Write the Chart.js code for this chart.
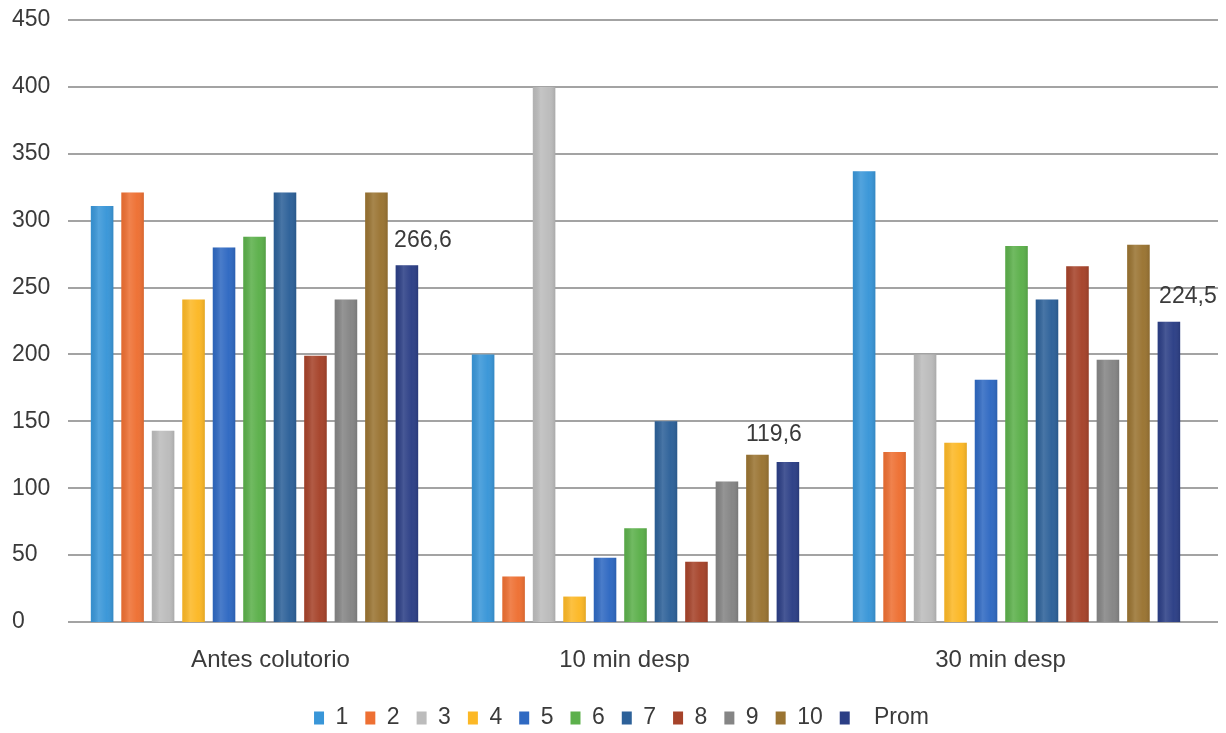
<!DOCTYPE html>
<html lang="es">
<head>
<meta charset="utf-8">
<title>Mediciones por sujeto</title>
<script src="https://cdn.jsdelivr.net/npm/chart.js@4.4.1/dist/chart.umd.min.js"></script>
<style>
  html, body { margin: 0; padding: 0; background: #ffffff; }
  #wrap { width: 1226px; height: 733px; }
</style>
</head>
<body>
<div id="wrap"><canvas id="grafico" width="1226" height="733"></canvas></div>
<script>
// Momentos de medición (eje X)
const categories = ['Antes colutorio', '10 min desp', '30 min desp'];

// Valores de cada sujeto en los tres momentos
const serie1  = [311, 200, 337];
const serie2  = [321, 34, 127];
const serie3  = [143, 400, 200];
const serie4  = [241, 19, 134];
const serie5  = [280, 48, 181];
const serie6  = [288, 70, 281];
const serie7  = [321, 150, 241];
const serie8  = [199, 45, 266];
const serie9  = [241, 105, 196];
const serie10 = [321, 125, 282];
const promedio = [266.6, 119.6, 224.5];

const seriesNames = ['1', '2', '3', '4', '5', '6', '7', '8', '9', '10', 'Prom'];
const seriesValues = [serie1, serie2, serie3, serie4, serie5, serie6, serie7, serie8, serie9, serie10, promedio];

// Eje Y
const yMin = 0;
const yMax = 450;
const yStep = 50;

// Estilo y ubicación
const colors = ['#3996d8', '#ee7033', '#bcbcbc', '#fcb826', '#2f69c2', '#5cb04b',
                '#2d6199', '#a6432a', '#858585', '#9a7432', '#2c3f86'];
const FONT = "'Liberation Sans', Arial, Helvetica, sans-serif";
const TEXT_COLOR = '#3a3a3a';
const GRID_COLOR = '#a3a3a3';
const GRID_X0 = 68, GRID_X1 = 1218;
const PLOT_BOTTOM = 622;
const CAT_LABEL_Y = 660;
const LEGEND_TEXT_Y = 718;
const LEGEND_SHIFT_X = 12;
const LEGEND_PAD = 17;
const catLabelShift = [16, -11, -16];
const valueLabelShift = [[16, -25], [-14, -27], [19, -25]];

// Líneas horizontales de la cuadrícula, a lo ancho del gráfico
const gridPlugin = {
  id: 'gridLines',
  beforeDatasetsDraw(chart) {
    const ys = chart.scales.y;
    const ctx = chart.ctx;
    ctx.save();
    ctx.strokeStyle = GRID_COLOR;
    ctx.lineWidth = 2;
    ys.ticks.forEach(t => {
      const y = Math.round(ys.getPixelForValue(t.value));
      ctx.beginPath();
      ctx.moveTo(GRID_X0, y);
      ctx.lineTo(GRID_X1, y);
      ctx.stroke();
    });
    ctx.restore();
  }
};

// Sombreado suave de cada barra, etiquetas de categoría y del promedio
const decorPlugin = {
  id: 'decor',
  afterLayout(chart) {
    const lg = chart.legend;
    if (lg) {
      const h = lg.height;
      lg.top = LEGEND_TEXT_Y - LEGEND_PAD - 23 / 2;
      lg.bottom = lg.top + h;
      lg.left += LEGEND_SHIFT_X;
      lg.right += LEGEND_SHIFT_X;
    }
  },
  afterDatasetsDraw(chart) {
    const ctx = chart.ctx;
    ctx.save();
    chart.data.datasets.forEach((ds, di) => {
      const meta = chart.getDatasetMeta(di);
      meta.data.forEach(bar => {
        const p = bar.getProps(['x', 'y', 'base', 'width'], true);
        const x0 = p.x - p.width / 2;
        const g = ctx.createLinearGradient(x0, 0, x0 + p.width, 0);
        g.addColorStop(0, 'rgba(0,0,0,0.05)');
        g.addColorStop(0.35, 'rgba(255,255,255,0.13)');
        g.addColorStop(0.7, 'rgba(255,255,255,0.02)');
        g.addColorStop(1, 'rgba(0,0,0,0.10)');
        ctx.fillStyle = g;
        ctx.fillRect(x0, p.y, p.width, p.base - p.y);
      });
    });

    // Valores del promedio sobre sus barras
    const promIdx = seriesValues.length - 1;
    const promMeta = chart.getDatasetMeta(promIdx);
    ctx.fillStyle = TEXT_COLOR;
    ctx.font = '23px ' + FONT;
    ctx.textAlign = 'center';
    ctx.textBaseline = 'middle';
    promMeta.data.forEach((bar, i) => {
      const v = chart.data.datasets[promIdx].data[i];
      const txt = v.toFixed(1).replace('.', ',');
      ctx.fillText(txt, bar.x + valueLabelShift[i][0], bar.y + valueLabelShift[i][1]);
    });

    // Etiquetas de categoría
    const xs = chart.scales.x;
    ctx.font = '24px ' + FONT;
    categories.forEach((c, i) => {
      ctx.fillText(c, xs.getPixelForValue(i) + catLabelShift[i], CAT_LABEL_Y);
    });
    ctx.restore();
  }
};

const datasets = seriesNames.map((name, i) => ({
  label: name,
  data: seriesValues[i],
  backgroundColor: colors[i],
  borderWidth: 0,
  categoryPercentage: 0.88,
  barPercentage: 0.74
}));

new Chart(document.getElementById('grafico'), {
  type: 'bar',
  data: { labels: categories, datasets },
  plugins: [gridPlugin, decorPlugin],
  options: {
    responsive: false,
    animation: false,
    devicePixelRatio: 1,
    layout: { padding: { left: 12, right: 19, top: 20, bottom: 0 } },
    plugins: {
      tooltip: { enabled: false },
      legend: {
        position: 'bottom',
        labels: {
          font: { family: FONT, size: 23 },
          color: TEXT_COLOR,
          boxWidth: 10,
          boxHeight: 13,
          padding: LEGEND_PAD,
          generateLabels(chart) {
            const items = Chart.defaults.plugins.legend.labels.generateLabels(chart);
            items.forEach(it => {
              it.lineWidth = 0;
              if (it.text === 'Prom') it.text = '  Prom';
            });
            return items;
          }
        }
      }
    },
    scales: {
      x: {
        grid: { display: false },
        border: { display: false },
        ticks: { display: false },
        afterFit(axis) {
          const lgH = axis.chart.legend ? axis.chart.legend.height : 0;
          axis.height = Math.max(0, axis.chart.height - PLOT_BOTTOM - lgH);
        }
      },
      y: {
        min: yMin,
        max: yMax,
        grid: { display: false },
        border: { display: false },
        ticks: {
          stepSize: yStep,
          crossAlign: 'far',
          color: TEXT_COLOR,
          font: { family: FONT, size: 23 }
        },
        afterFit(axis) { axis.width = 52; }
      }
    }
  }
});
</script>
</body>
</html>
